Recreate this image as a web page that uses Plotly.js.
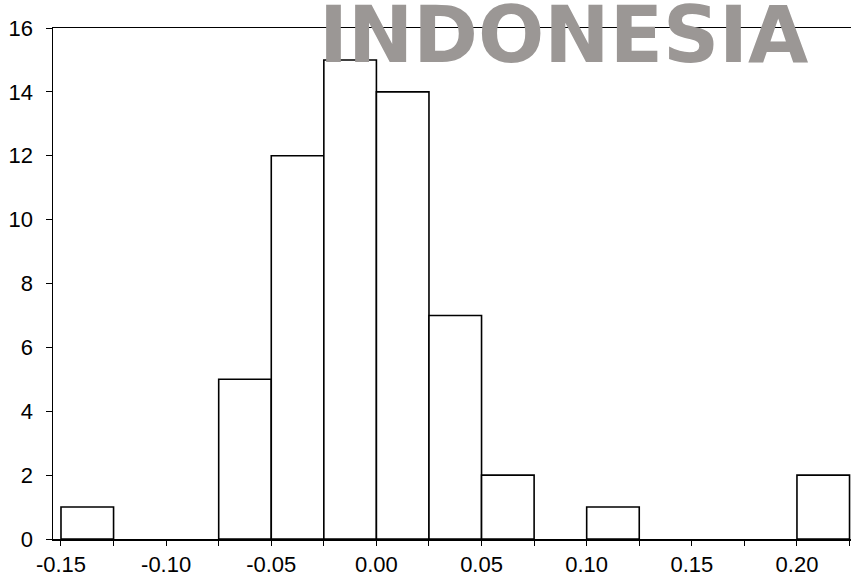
<!DOCTYPE html>
<html>
<head>
<meta charset="utf-8">
<script src="https://cdn.plot.ly/plotly-3.0.1.min.js"></script>
<style>html,body{margin:0;padding:0;background:#fff;}#chart{width:851px;height:576px;}</style>
</head>
<body>
<div id="chart"></div>
<script>
// Histogram bins (lower edges) and counts
const binStarts = [-0.15, -0.075, -0.05, -0.025, 0.0, 0.025, 0.05, 0.10, 0.20];
const counts    = [1, 5, 12, 15, 14, 7, 2, 1, 2];
const binWidth = 0.025;
const xTickVals = [-0.15, -0.10, -0.05, 0.00, 0.05, 0.10, 0.15, 0.20];
const xTickText = ['-0.15', '-0.10', '-0.05', '0.00', '0.05', '0.10', '0.15', '0.20'];
const yTickVals = [0, 2, 4, 6, 8, 10, 12, 14, 16];
const titleText = 'INDONESIA';

const trace = {
  type: 'bar',
  x: binStarts,
  y: counts,
  width: binStarts.map(() => binWidth),
  offset: 0,
  marker: { color: '#ffffff', line: { color: '#000000', width: 1.6 } },
  hoverinfo: 'none'
};

const layout = {
  width: 851, height: 576,
  margin: { l: 53, r: 0, t: 28, b: 37, pad: 0 },
  paper_bgcolor: '#ffffff', plot_bgcolor: '#ffffff',
  showlegend: false,
  font: { family: 'Liberation Sans, Arial, sans-serif', size: 22, color: '#000' },
  xaxis: {
    range: [-0.1538, 0.2257],
    showgrid: false, zeroline: false,
    showline: true, linecolor: '#000', linewidth: 1.5, mirror: true,
    ticks: 'outside', ticklen: 5, tickwidth: 1, tickcolor: '#000',
    tickmode: 'array', tickvals: xTickVals, ticktext: xTickText,
    minor: { ticks: 'outside', ticklen: 5, tickwidth: 1, tickcolor: '#000', dtick: 0.025, tick0: 0, showgrid: false },
    tickfont: { size: 22 }
  },
  yaxis: {
    range: [0, 16],
    showgrid: false, zeroline: false,
    showline: true, linecolor: '#000', linewidth: 1.5,
    ticks: 'outside', ticklen: 6, tickwidth: 1, tickcolor: '#000',
    ticklabelstandoff: 8,
    tickmode: 'array', tickvals: yTickVals,
    tickfont: { size: 22 }
  },
  annotations: [{
    text: '<b>' + titleText + '</b>',
    xref: 'paper', yref: 'paper',
    x: 0.640, y: 1.0, xanchor: 'center', yanchor: 'middle', yshift: -7,
    showarrow: false,
    font: { family: 'DejaVu Sans', size: 78, color: '#9b9795' }
  }]
};

Plotly.newPlot('chart', [trace], layout, { staticPlot: true });
</script>
</body>
</html>
